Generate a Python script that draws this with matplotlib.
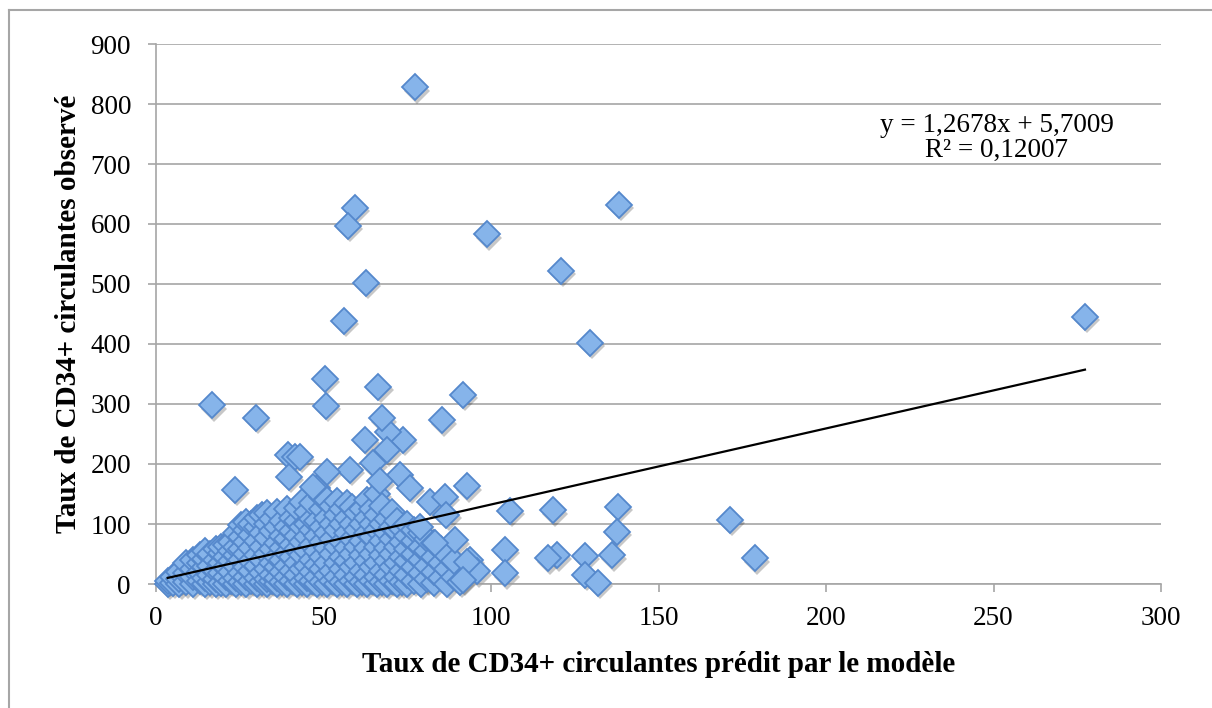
import matplotlib
matplotlib.use('Agg')
import matplotlib.pyplot as plt
from matplotlib.lines import Line2D
from matplotlib.transforms import offset_copy
import numpy as np

# points outside the dense cluster (predicted, observed)
outlier_x = [77.3, 59.4, 57.2, 98.7, 62.7, 56.1, 138.2, 120.9, 129.6, 277.3,
             171.3, 178.8, 138.0, 137.5, 136.0, 128.0, 128.0, 132.0, 119.6, 117.1,
             118.6, 105.7, 104.2, 104.2, 62.4, 73.8, 69.3, 68.9, 64.9, 72.8,
             75.8, 66.9, 57.9, 51.0, 47.0, 39.5, 41.5, 43.0, 39.7, 23.6,
             16.6, 29.9, 50.5, 50.8, 66.4, 67.4, 85.3, 91.7, 92.7, 81.8,
             86.3, 86.7, 89.3, 83.3, 78.8, 93.7, 95.7, 90.7, 92.7, 91.7]
outlier_y = [828, 627, 597, 583, 502, 439, 632, 522, 402, 445,
             107, 43, 129, 87, 48, 47, 15, 2, 48, 43,
             123, 122, 57, 18, 240, 240, 254, 223, 201, 182,
             160, 171, 190, 187, 162, 215, 212, 212, 179, 157,
             298, 277, 342, 297, 329, 276, 273, 315, 163, 137,
             145, 115, 73, 68, 95, 40, 21, 4, 37, 7]

# dense cluster, read column by column
cluster_cols_x = [3.5, 5, 7, 9, 11, 13, 14.5, 16, 18, 19.5, 21, 22.5, 24, 25.5,
                  27, 28.5, 30, 31.5, 33, 34.5, 36, 37.5, 39, 40.5, 42, 43.5,
                  45, 46.5, 48, 49.5, 51, 52.5, 54, 55.5, 57, 58.5, 60, 61.5,
                  63, 64.5, 66, 67.5, 69, 70.5, 72, 73.5, 75, 77, 79, 81, 83,
                  85, 87, 89]
cluster_cols_y = [
    [0, 5], [2, 12], [0, 8, 20], [3, 18, 35], [0, 12, 25, 40],
    [5, 20, 35, 48], [0, 10, 28, 42, 55], [3, 15, 30, 50],
    [0, 8, 22, 40, 58], [2, 18, 35, 52, 62], [0, 12, 28, 45, 65],
    [5, 20, 38, 55, 70], [0, 10, 30, 48, 62, 85], [3, 18, 40, 58, 78, 98],
    [0, 12, 28, 50, 70, 90, 104], [5, 22, 38, 60, 82, 100],
    [0, 10, 30, 48, 72, 95, 110], [3, 18, 40, 62, 85, 115],
    [0, 8, 25, 50, 76, 100, 118], [5, 15, 35, 58, 88, 108],
    [0, 10, 28, 45, 68, 95, 120], [3, 20, 40, 60, 80, 105],
    [0, 12, 30, 52, 75, 95, 125], [5, 22, 45, 65, 88, 110],
    [0, 15, 35, 58, 80, 105, 126], [3, 25, 48, 70, 95, 137],
    [0, 10, 30, 55, 78, 100, 120], [5, 20, 40, 65, 90, 109, 135],
    [0, 12, 32, 55, 80, 105, 160], [3, 25, 45, 70, 95, 125, 145],
    [0, 15, 35, 60, 85, 110, 140], [5, 22, 50, 75, 100, 130],
    [0, 12, 35, 62, 90, 115, 138], [3, 25, 45, 70, 100, 125],
    [0, 15, 38, 60, 85, 110, 135], [5, 28, 50, 75, 100, 128],
    [0, 12, 35, 62, 90, 118], [3, 22, 48, 72, 100, 125],
    [0, 15, 38, 60, 85, 110, 140], [5, 28, 50, 78, 100, 125],
    [0, 12, 35, 62, 90, 115, 150], [3, 22, 48, 72, 100, 130],
    [0, 15, 38, 60, 85, 108], [5, 28, 50, 75, 95, 120],
    [0, 12, 35, 62, 88, 105], [3, 22, 45, 70, 92],
    [0, 15, 38, 58, 80, 100], [5, 28, 50, 72, 90],
    [0, 18, 40, 62, 85], [8, 30, 55, 75], [2, 20, 45, 68],
    [10, 35, 58], [0, 25, 48], [12, 38]]

slope = 1.2678
intercept = 5.7009
r2_text = '0,12007'

x_ticks = [0, 50, 100, 150, 200, 250, 300]
y_ticks = [0, 100, 200, 300, 400, 500, 600, 700, 800, 900]


def collect_points():
    xs, ys = [], []
    for cx, col in zip(cluster_cols_x, cluster_cols_y):
        for cy in col:
            xs.append(cx)
            ys.append(cy)
    xs += outlier_x
    ys += outlier_y
    return np.array(xs, dtype=float), np.array(ys, dtype=float)


def main():
    plt.rcParams['font.family'] = ['Liberation Serif', 'DejaVu Serif']
    fig = plt.figure(figsize=(12.12, 7.08), dpi=100)
    ax = fig.add_axes([156 / 1212, 1 - 584 / 708, 1005 / 1212, 540 / 708])

    xs, ys = collect_points()
    grid_col = '#a6a6a6'

    ax.set_xlim(0, 300)
    ax.set_ylim(0, 900)
    ax.set_xticks(x_ticks)
    ax.set_yticks(y_ticks)
    ax.yaxis.grid(True, color=grid_col, linewidth=1.2)
    ax.set_axisbelow(True)
    for s in ['top', 'right']:
        ax.spines[s].set_visible(False)
    for s in ['left', 'bottom']:
        ax.spines[s].set_color(grid_col)
        ax.spines[s].set_linewidth(1.2)
    ax.tick_params(axis='both', colors=grid_col, length=6, width=1.2,
                   labelsize=19.5, labelcolor='black')
    ax.tick_params(axis='y', pad=12)
    ax.tick_params(axis='x', pad=10)

    # drop shadow under the diamonds
    shadow_tr = offset_copy(ax.transData, fig=fig, x=1.5, y=-2.5, units='points')
    ax.plot(xs, ys, 'D', ms=13.5, color='#000000', alpha=0.22, mew=0,
            transform=shadow_tr, clip_on=False, zorder=2)
    ax.plot(xs, ys, 'D', ms=13.5, markerfacecolor='#86b4ea',
            markeredgecolor='#5588cc', mew=1.3, clip_on=False, zorder=3)

    lx = np.array([xs.min(), xs.max()])
    ax.plot(lx, slope * lx + intercept, color='black', linewidth=1.6, zorder=4)

    eq = 'y = ' + f'{slope:.4f}'.replace('.', ',') + 'x + ' + \
        f'{intercept:.4f}'.replace('.', ',')
    ax.text(251, 765, eq, ha='center', va='center', fontsize=19.5, zorder=5)
    ax.text(251, 723, 'R² = ' + r2_text, ha='center', va='center',
            fontsize=19.5, zorder=5)

    ax.set_xlabel('Taux de CD34+ circulantes prédit par le modèle',
                  fontsize=21, fontweight='bold', labelpad=14)
    ax.set_ylabel('Taux de CD34+ circulantes observé',
                  fontsize=21, fontweight='bold', labelpad=6)

    # outer chart frame (only top and left edges are visible in the crop)
    fig.add_artist(Line2D([8.5 / 1212, 8.5 / 1212], [0, 1 - 10 / 708],
                          transform=fig.transFigure, color=grid_col, lw=1.5))
    fig.add_artist(Line2D([8.5 / 1212, 1], [1 - 10 / 708, 1 - 10 / 708],
                          transform=fig.transFigure, color=grid_col, lw=1.5))

    fig.savefig('out.png', dpi=100, facecolor='white')


if __name__ == '__main__':
    main()
